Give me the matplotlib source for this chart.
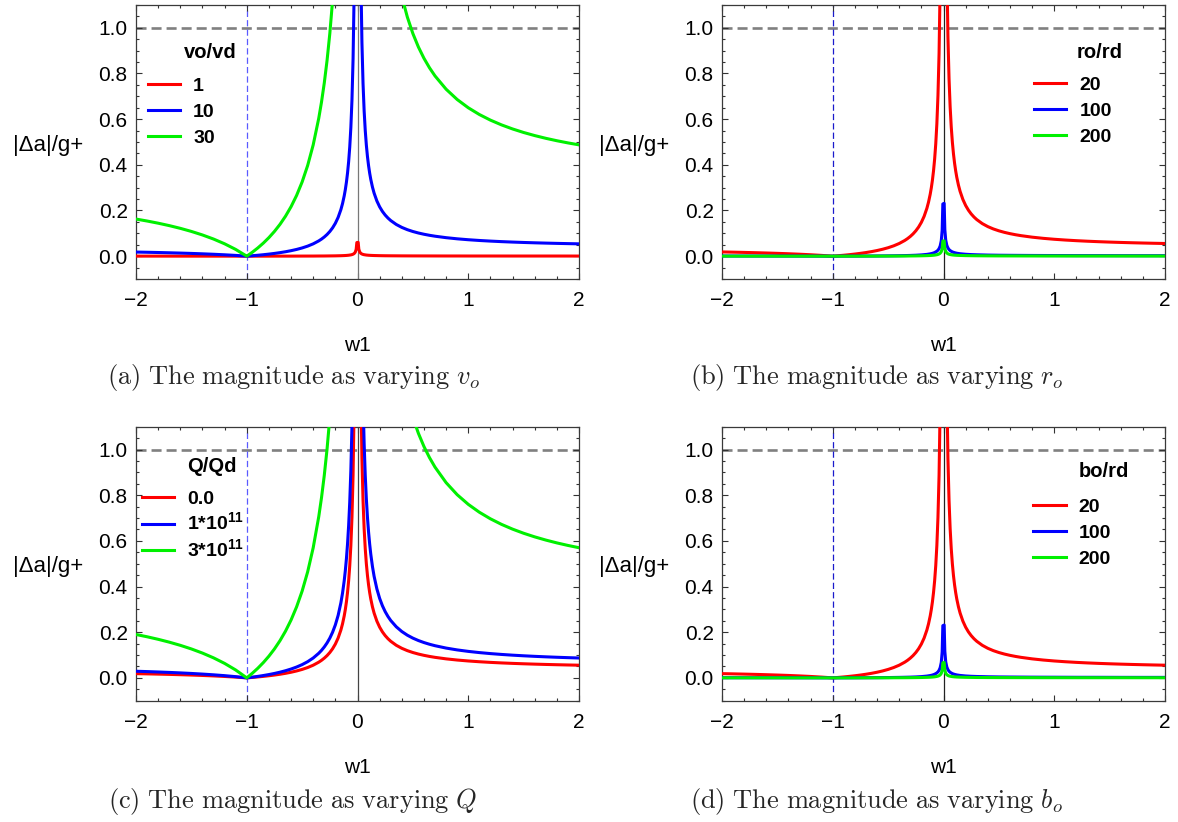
import matplotlib
matplotlib.use('Agg')
import matplotlib.pyplot as plt
from matplotlib.ticker import MultipleLocator, FormatStrFormatter
from matplotlib.font_manager import FontProperties

plt.rcParams['font.family'] = ['Liberation Sans', 'DejaVu Sans']
plt.rcParams['mathtext.fontset'] = 'custom'
plt.rcParams['mathtext.bf'] = 'Liberation Sans:bold'
plt.rcParams['mathtext.rm'] = 'Liberation Sans'
plt.rcParams['axes.unicode_minus'] = True

# ---------------- data ----------------
# coarse sampling for the nearly flat curves
w1 = [-2.0, -1.8, -1.6, -1.4, -1.2, -1.0, -0.9, -0.8, -0.7, -0.6, -0.5, -0.4, -0.35,
      -0.3, -0.25, -0.2, -0.15, -0.12, -0.1, -0.08, -0.06, -0.05, -0.04, -0.03, -0.02,
      -0.012, -0.006, 0.006, 0.012, 0.02, 0.03, 0.04, 0.05, 0.06, 0.08, 0.1, 0.12, 0.15,
      0.2, 0.25, 0.3, 0.4, 0.5, 0.6, 0.7, 0.8, 0.9, 1.0, 1.2, 1.4, 1.6, 1.8, 2.0]

# finer sampling for the strongly curved ones
w1_fine = [-2.0, -1.9, -1.8, -1.7, -1.6, -1.5, -1.4, -1.3, -1.2, -1.1, -1.0,
           -0.95, -0.9, -0.85, -0.8, -0.75, -0.7, -0.65, -0.6, -0.55, -0.5, -0.45, -0.4, -0.35,
           -0.325, -0.3, -0.275, -0.25, -0.225, -0.2, -0.175, -0.15, -0.135, -0.12, -0.11,
           -0.1, -0.09, -0.08, -0.07, -0.06, -0.05, -0.04, -0.03, -0.02, -0.012, -0.006,
           0.006, 0.012, 0.02, 0.03, 0.04, 0.05, 0.06, 0.07, 0.08, 0.09, 0.1, 0.11, 0.12,
           0.135, 0.15, 0.175, 0.2, 0.225, 0.25, 0.275, 0.3,
           0.35, 0.4, 0.45, 0.5, 0.55, 0.6, 0.65, 0.7, 0.8, 0.9, 1.0,
           1.1, 1.2, 1.3, 1.4, 1.5, 1.6, 1.7, 1.8, 1.9, 2.0]

# (a) vo/vd
a_vo1 = [0.0002, 0.0002, 0.0001, 0.0001, 0.0001, 0.0, 0.0, 0.0001, 0.0002, 0.0002, 0.0004,
         0.0005, 0.0007, 0.0008, 0.0011, 0.0014, 0.0020, 0.0026, 0.0032, 0.0041, 0.0056,
         0.0068, 0.0086, 0.0116, 0.0176, 0.0296, 0.0596, 0.0604, 0.0304, 0.0184, 0.0124,
         0.0094, 0.0076, 0.0064, 0.0049, 0.0040, 0.0034, 0.0028, 0.0022, 0.0018, 0.0016,
         0.0013, 0.0011, 0.0010, 0.0009, 0.0008, 0.0008, 0.0007, 0.0007, 0.0006, 0.0006,
         0.0006, 0.0005]
a_vo10 = [0.018, 0.01705, 0.016, 0.01482, 0.0135, 0.012, 0.01029, 0.00831, 0.006, 0.00327, 0.0,
          0.00189, 0.004, 0.00635, 0.009, 0.012, 0.01543, 0.01938, 0.024, 0.02945, 0.036,
          0.044, 0.054, 0.06686,
          0.07477, 0.084, 0.09491, 0.108, 0.124, 0.144, 0.16971, 0.204, 0.23067, 0.264,
          0.29127, 0.324, 0.364, 0.414, 0.47829, 0.564, 0.684, 0.864, 1.164, 1.764, 2.964,
          5.964,
          6.036, 3.036, 1.836, 1.236, 0.936, 0.756, 0.636, 0.55029, 0.486, 0.436, 0.396,
          0.36327, 0.336, 0.30267, 0.276, 0.24171, 0.216, 0.196, 0.18, 0.16691, 0.156,
          0.13886, 0.126, 0.116, 0.108, 0.10145, 0.096, 0.09138, 0.08743, 0.081, 0.076, 0.072,
          0.06873, 0.066, 0.06369, 0.06171, 0.06, 0.0585, 0.05718, 0.056, 0.05495, 0.054]
a_vo30 = [0.1625, 0.15395, 0.14444, 0.13382, 0.12188, 0.10833, 0.09286, 0.075, 0.05417,
          0.02955, 0.0,
          0.01711, 0.03611, 0.05735, 0.08125, 0.10833, 0.13929, 0.175, 0.21667, 0.26591,
          0.325, 0.39722, 0.4875, 0.60357,
          0.675, 0.75833, 0.85682, 0.975, 1.11944, 1.3, 1.53214, 1.84167, 2.08241, 2.38333,
          2.62955, 2.925, 3.28611, 3.7375, 4.31786, 5.09167, 6.175, 7.8, 10.5083, 15.925,
          26.758, 53.84,
          54.49, 27.41, 16.575, 11.1583, 8.45, 6.825, 5.74167, 4.96786, 4.3875, 3.93611,
          3.575, 3.27955, 3.03333, 2.73241, 2.49167, 2.18214, 1.95, 1.76944, 1.625, 1.50682,
          1.40833,
          1.25357, 1.1375, 1.04722, 0.975, 0.91591, 0.86667, 0.825, 0.78929, 0.73125,
          0.68611, 0.65,
          0.62045, 0.59583, 0.575, 0.55714, 0.54167, 0.52813, 0.51618, 0.50556, 0.49605,
          0.4875]

# (b) ro/rd  and (d) bo/rd (the two panels show the same curves)
b_20 = [0.0185, 0.01753, 0.01644, 0.01524, 0.01388, 0.01233, 0.01057, 0.00854, 0.00617,
        0.00336, 0.0,
        0.00195, 0.00411, 0.00653, 0.00925, 0.01233, 0.01586, 0.01992, 0.02467, 0.03027,
        0.037, 0.04522, 0.0555, 0.06871,
        0.07685, 0.08633, 0.09755, 0.111, 0.12744, 0.148, 0.17443, 0.20967, 0.23707,
        0.27133, 0.29936, 0.333, 0.37411, 0.4255, 0.49157, 0.57967, 0.703, 0.888, 1.19633,
        1.813, 3.04633, 6.12967,
        6.20367, 3.12033, 1.887, 1.27033, 0.962, 0.777, 0.65367, 0.56557, 0.4995, 0.44811,
        0.407, 0.37336, 0.34533, 0.31107, 0.28367, 0.24843, 0.222, 0.20144, 0.185, 0.17155,
        0.16033,
        0.14271, 0.1295, 0.11922, 0.111, 0.10427, 0.09867, 0.09392, 0.08986, 0.08325,
        0.07811, 0.074,
        0.07064, 0.06783, 0.06546, 0.06343, 0.06167, 0.06013, 0.05876, 0.05756, 0.05647,
        0.0555]
b_100 = [0.0007, 0.0006, 0.0005, 0.0004, 0.0002, 0.0, 0.0002, 0.0003, 0.0006, 0.0009,
         0.0014, 0.0021, 0.0026, 0.0032, 0.0041, 0.0055, 0.0078, 0.0101, 0.0124, 0.0159,
         0.0216, 0.0262, 0.0331, 0.0446, 0.0676, 0.1136, 0.2286, 0.2314, 0.1164, 0.0704,
         0.0474, 0.0359, 0.029, 0.0244, 0.0186, 0.0152, 0.0129, 0.0106, 0.0083, 0.0069,
         0.006, 0.0048, 0.0041, 0.0037, 0.0034, 0.0031, 0.0029, 0.0028, 0.0025, 0.0024,
         0.0022, 0.0021, 0.0021]
b_200 = [0.0002, 0.0002, 0.0002, 0.0001, 0.0001, 0.0, 0.0, 0.0001, 0.0002, 0.0003,
         0.0004, 0.0006, 0.0007, 0.0009, 0.0012, 0.0016, 0.0023, 0.0029, 0.0036, 0.0046,
         0.0063, 0.0076, 0.0096, 0.0129, 0.0196, 0.0329, 0.0663, 0.0671, 0.0337, 0.0204,
         0.0137, 0.0104, 0.0084, 0.0071, 0.0054, 0.0044, 0.0037, 0.0031, 0.0024, 0.002,
         0.0017, 0.0014, 0.0012, 0.0011, 0.001, 0.0009, 0.0008, 0.0008, 0.0007, 0.0007,
         0.0007, 0.0006, 0.0006]

# (c) Q/Qd
c_q0 = b_20
c_q1 = [0.029, 0.02747, 0.02578, 0.02388, 0.02175, 0.01933, 0.01657, 0.01338, 0.00967,
        0.00527, 0.0,
        0.00305, 0.00644, 0.01024, 0.0145, 0.01933, 0.02486, 0.03123, 0.03867, 0.04745,
        0.058, 0.07089, 0.087, 0.10771,
        0.12046, 0.13533, 0.15291, 0.174, 0.19978, 0.232, 0.27343, 0.32867, 0.37163,
        0.42533, 0.46927, 0.522, 0.58644, 0.667, 0.77057, 0.90867, 1.102, 1.392, 1.87533,
        2.842, 4.77533, 9.60867,
        9.72467, 4.89133, 2.958, 1.99133, 1.508, 1.218, 1.02467, 0.88657, 0.783, 0.70244,
        0.638, 0.58527, 0.54133, 0.48763, 0.44467, 0.38943, 0.348, 0.31578, 0.29, 0.26891,
        0.25133,
        0.22371, 0.203, 0.18689, 0.174, 0.16345, 0.15467, 0.14723, 0.14086, 0.1305,
        0.12244, 0.116,
        0.11073, 0.10633, 0.10262, 0.09943, 0.09667, 0.09425, 0.09212, 0.09022, 0.08853,
        0.087]
c_q3 = [0.19, 0.18, 0.16889, 0.15647, 0.1425, 0.12667, 0.10857, 0.08769, 0.06333, 0.03455,
        0.0,
        0.02, 0.04222, 0.06706, 0.095, 0.12667, 0.16286, 0.20462, 0.25333, 0.31091, 0.38,
        0.46444, 0.57, 0.70571,
        0.78923, 0.88667, 1.00182, 1.14, 1.30889, 1.52, 1.79143, 2.15333, 2.43481, 2.78667,
        3.07455, 3.42, 3.84222, 4.37, 5.04857, 5.95333, 7.22, 9.12, 12.2867, 18.62, 31.287,
        62.953,
        63.713, 32.047, 19.38, 13.0467, 9.88, 7.98, 6.71333, 5.80857, 5.13, 4.60222, 4.18,
        3.83455, 3.54667, 3.19481, 2.91333, 2.55143, 2.28, 2.06889, 1.9, 1.76182, 1.64667,
        1.46571, 1.33, 1.22444, 1.14, 1.07091, 1.01333, 0.96462, 0.92286, 0.855, 0.80222,
        0.76,
        0.72545, 0.69667, 0.67231, 0.65143, 0.63333, 0.6175, 0.60353, 0.59111, 0.58, 0.57]

legend_titles = ['vo/vd', 'ro/rd', 'Q/Qd', 'bo/rd']
legend_labels = [['1', '10', '30'],
                 ['20', '100', '200'],
                 ['0.0', r'1*10$^{\mathbf{11}}$', r'3*10$^{\mathbf{11}}$'],
                 ['20', '100', '200']]
series = [[(w1, a_vo1), (w1_fine, a_vo10), (w1_fine, a_vo30)],
          [(w1_fine, b_20), (w1, b_100), (w1, b_200)],
          [(w1_fine, c_q0), (w1_fine, c_q1), (w1_fine, c_q3)],
          [(w1_fine, b_20), (w1, b_100), (w1, b_200)]]
captions = [r'$\mathrm{(a)\ The\ magnitude\ as\ varying}\ \mathit{v_o}$',
            r'$\mathrm{(b)\ The\ magnitude\ as\ varying}\ \mathit{r_o}$',
            r'$\mathrm{(c)\ The\ magnitude\ as\ varying}\ \mathit{Q}$',
            r'$\mathrm{(d)\ The\ magnitude\ as\ varying}\ \mathit{b_o}$']
colors = ['#ff0000', '#0000ff', '#00f000']

# ---------------- layout ----------------
W, H = 1178, 822
fig = plt.figure(figsize=(W / 100, H / 100), dpi=100)

ax_w = 443 / W
ax_h = 274 / H
lefts = [136 / W, 722 / W, 136 / W, 722 / W]
bottoms = [1 - 279 / H, 1 - 279 / H, 1 - 700.7 / H, 1 - 700.7 / H]
vline_cols = ['#5a5aff', '#1a1acc', '#5a5aff', '#1a1acc']
zero_cols = ['#777777', '#222222', '#444444', '#222222']
leg_anchor = [(0.027, 0.737), (0.705, 0.741), (0.0135, 0.768), (0.703, 0.740)]
leg_spacing = [0.44, 0.44, 0.2, 0.44]
title_pos = [(0.108, 0.828), (0.800, 0.828), (0.115, 0.853), (0.806, 0.835)]
cap_pos = [(293 / W, 1 - 384 / H), (876.5 / W, 1 - 384 / H),
           (293 / W, 1 - 808 / H), (876.5 / W, 1 - 808 / H)]

bold = FontProperties(family='Liberation Sans', weight='bold', size=14)
bold_title = FontProperties(family='Liberation Sans', weight='bold', size=14.5)

for i in range(4):
    ax = fig.add_axes([lefts[i], bottoms[i], ax_w, ax_h])
    ax.set_xlim(-2, 2)
    ax.set_ylim(-0.1, 1.1)

    ax.axhline(1.0, color='#808080', lw=1.9, ls=(0, (3.8, 1.9)), zorder=1)
    ax.axvline(-1.0, color=vline_cols[i], lw=0.9, ls=(0, (5, 2.5)), zorder=1)
    ax.axvline(0.0, color=zero_cols[i], lw=0.9, zorder=2)

    for (x, y), c, lab in zip(series[i], colors, legend_labels[i]):
        ax.plot(x, y, color=c, lw=2.2, label=lab, zorder=3, solid_joinstyle='round')

    ax.xaxis.set_major_locator(MultipleLocator(1))
    ax.xaxis.set_minor_locator(MultipleLocator(0.2))
    ax.yaxis.set_major_locator(MultipleLocator(0.2))
    ax.yaxis.set_minor_locator(MultipleLocator(0.05))
    ax.yaxis.set_major_formatter(FormatStrFormatter('%.1f'))
    ax.tick_params(which='both', direction='in', top=True, right=True,
                   color='#333333', width=0.8, labelsize=15)
    ax.tick_params(which='major', length=4.5)
    ax.tick_params(which='minor', length=2.4)
    ax.tick_params(axis='x', pad=9)
    ax.tick_params(axis='y', pad=6)
    for s in ax.spines.values():
        s.set_color('#3a3a3a')
        s.set_linewidth(0.9)

    ax.set_xlabel('w1', fontsize=15)
    ax.xaxis.set_label_coords(0.5, -0.208)
    ax.set_ylabel('|Δa|/g+', fontsize=16, rotation=0, ha='center', va='center')
    ax.yaxis.set_label_coords(-0.199, 0.488)

    ax.legend(loc='upper left', bbox_to_anchor=leg_anchor[i], frameon=False,
              prop=bold, handlelength=1.65, handletextpad=0.67,
              labelspacing=leg_spacing[i], borderpad=0, borderaxespad=0)
    ax.text(title_pos[i][0], title_pos[i][1], legend_titles[i], transform=ax.transAxes,
            fontproperties=bold_title, ha='left', va='center')

    fig.text(cap_pos[i][0], cap_pos[i][1], captions[i], ha='center', va='baseline',
             fontsize=19, color='#262626', math_fontfamily='cm')

fig.savefig('out.png', dpi=100)
